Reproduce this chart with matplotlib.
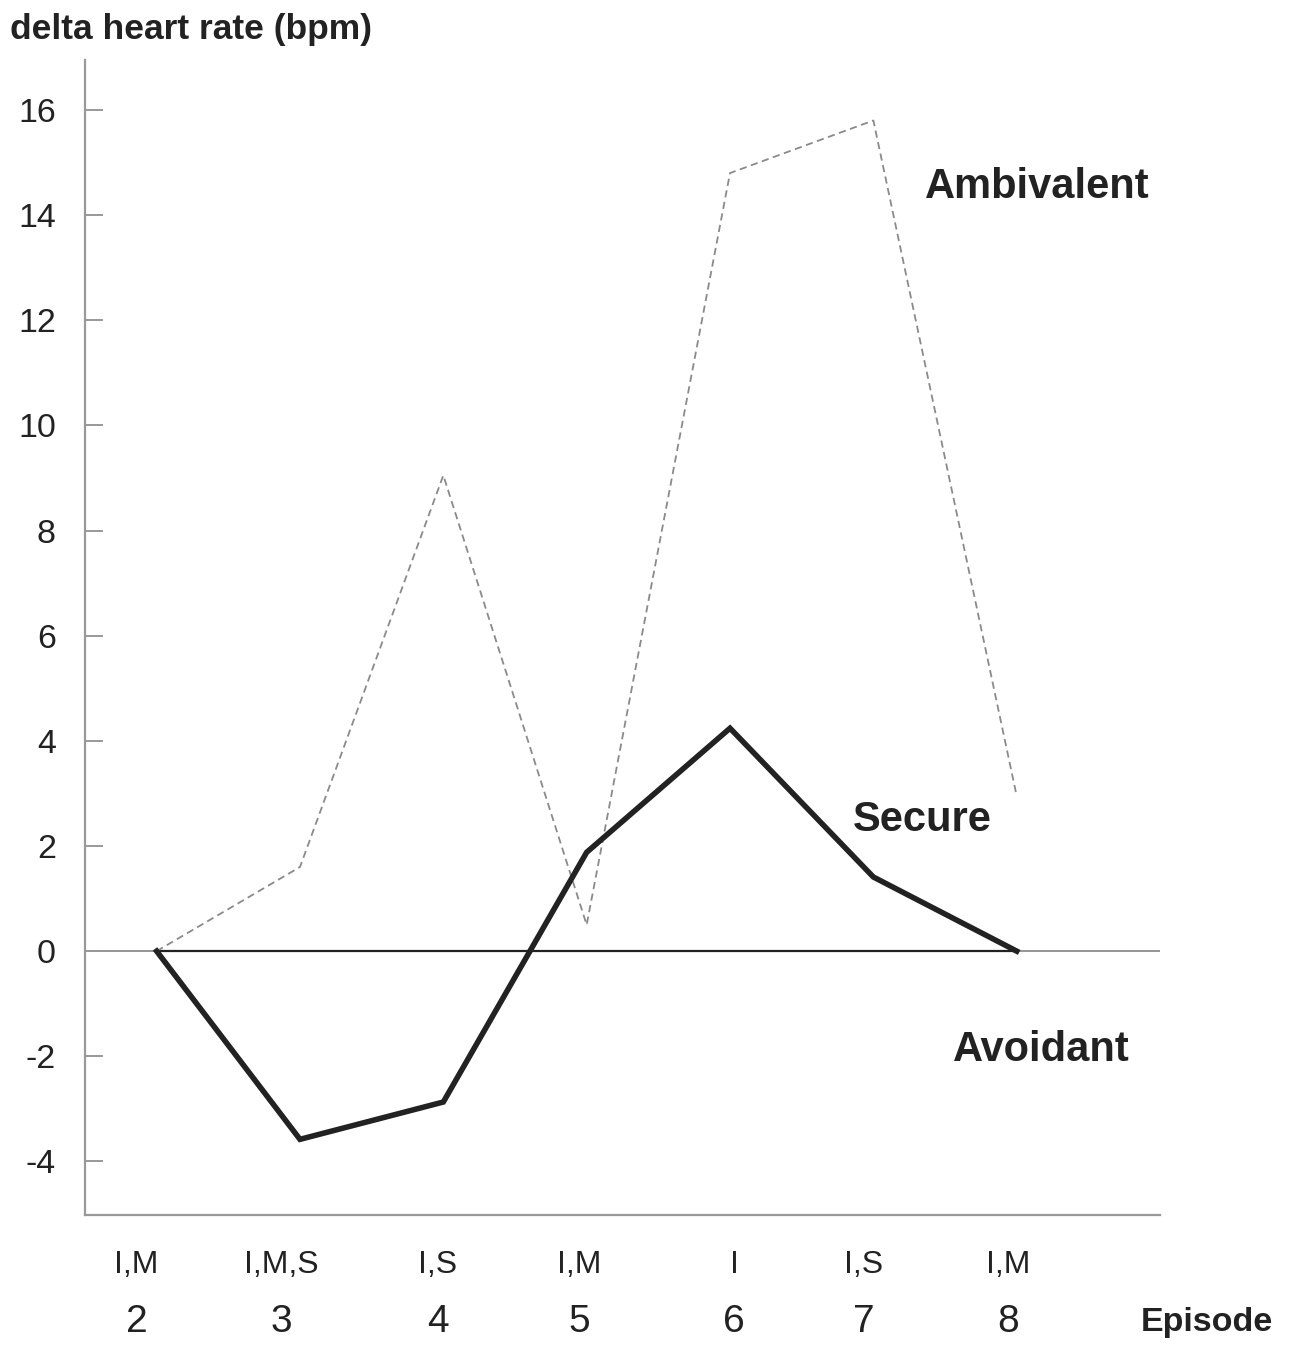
import matplotlib.pyplot as plt

plt.rcParams['font.family'] = ['Liberation Sans', 'DejaVu Sans']
plt.rcParams['axes.unicode_minus'] = False

episodes = [2, 3, 4, 5, 6, 7, 8]
conditions = ["I,M", "I,M,S", "I,S", "I,M", "I", "I,S", "I,M"]
secure = [0, -3.58, -2.87, 1.88, 4.24, 1.41, 0]
ambivalent = [0, 1.6, 9.05, 0.5, 14.8, 15.8, 2.95]
avoidant = [0, 0, 0, 0, 0, 0, 0]
yticks = [-4, -2, 0, 2, 4, 6, 8, 10, 12, 14, 16]

# where the episode labels sit under the axis
label_x = [1.86, 2.87, 3.96, 4.95, 6.03, 6.93, 7.94]

fig = plt.figure(figsize=(12.95, 13.49), dpi=100)
ax = fig.add_axes([0.0656, 0.0993, 0.8302, 0.8562])

ax.axhline(0, color="#8c8c8c", lw=1.3, zorder=1)
ax.plot(episodes, avoidant, color="#222222", lw=1.6, zorder=2)
ax.plot(episodes, ambivalent, color="#8a8a8a", lw=1.3, ls=(0, (4, 2.5)), zorder=2)
ax.plot(episodes, secure, color="#222222", lw=4.0, solid_joinstyle="miter", zorder=3)

ax.set_xlim(1.5, 9.0)
ax.set_ylim(-5.02, 16.95)
ax.set_xticks([])
ax.set_yticks(yticks)
ax.set_yticklabels([str(v) for v in yticks], fontsize=24.5, color="#222222")
ax.tick_params(axis="y", direction="in", length=13, width=1.4, color="#999999", pad=21)

for side in ["top", "right"]:
    ax.spines[side].set_visible(False)
for side in ["left", "bottom"]:
    ax.spines[side].set_color("#999999")
    ax.spines[side].set_linewidth(1.6)

tr = ax.get_xaxis_transform()
for x, cond, ep in zip(label_x, conditions, episodes):
    ax.text(x, -0.0433, cond, transform=tr, ha="center", va="center",
            fontsize=23, color="#222222", clip_on=False)
    ax.text(x, -0.0926, str(ep), transform=tr, ha="center", va="center",
            fontsize=28, color="#222222", clip_on=False)

fig.text(1207 / 1295, 1 - 1322 / 1349, "Episode", ha="center", va="center",
         fontsize=24.5, fontweight="bold", color="#222222")
fig.text(10 / 1295, 1 - 30 / 1349, "delta heart rate (bpm)", ha="left", va="center",
         fontsize=25.5, fontweight="bold", color="#222222")

ax.text(8.146, 14.53, "Ambivalent", ha="center", va="center", fontsize=30,
        fontweight="bold", color="#222222")
ax.text(7.338, 2.49, "Secure", ha="center", va="center", fontsize=30,
        fontweight="bold", color="#222222")
ax.text(8.174, -1.88, "Avoidant", ha="center", va="center", fontsize=30,
        fontweight="bold", color="#222222")

fig.savefig("out.png", dpi=100)
